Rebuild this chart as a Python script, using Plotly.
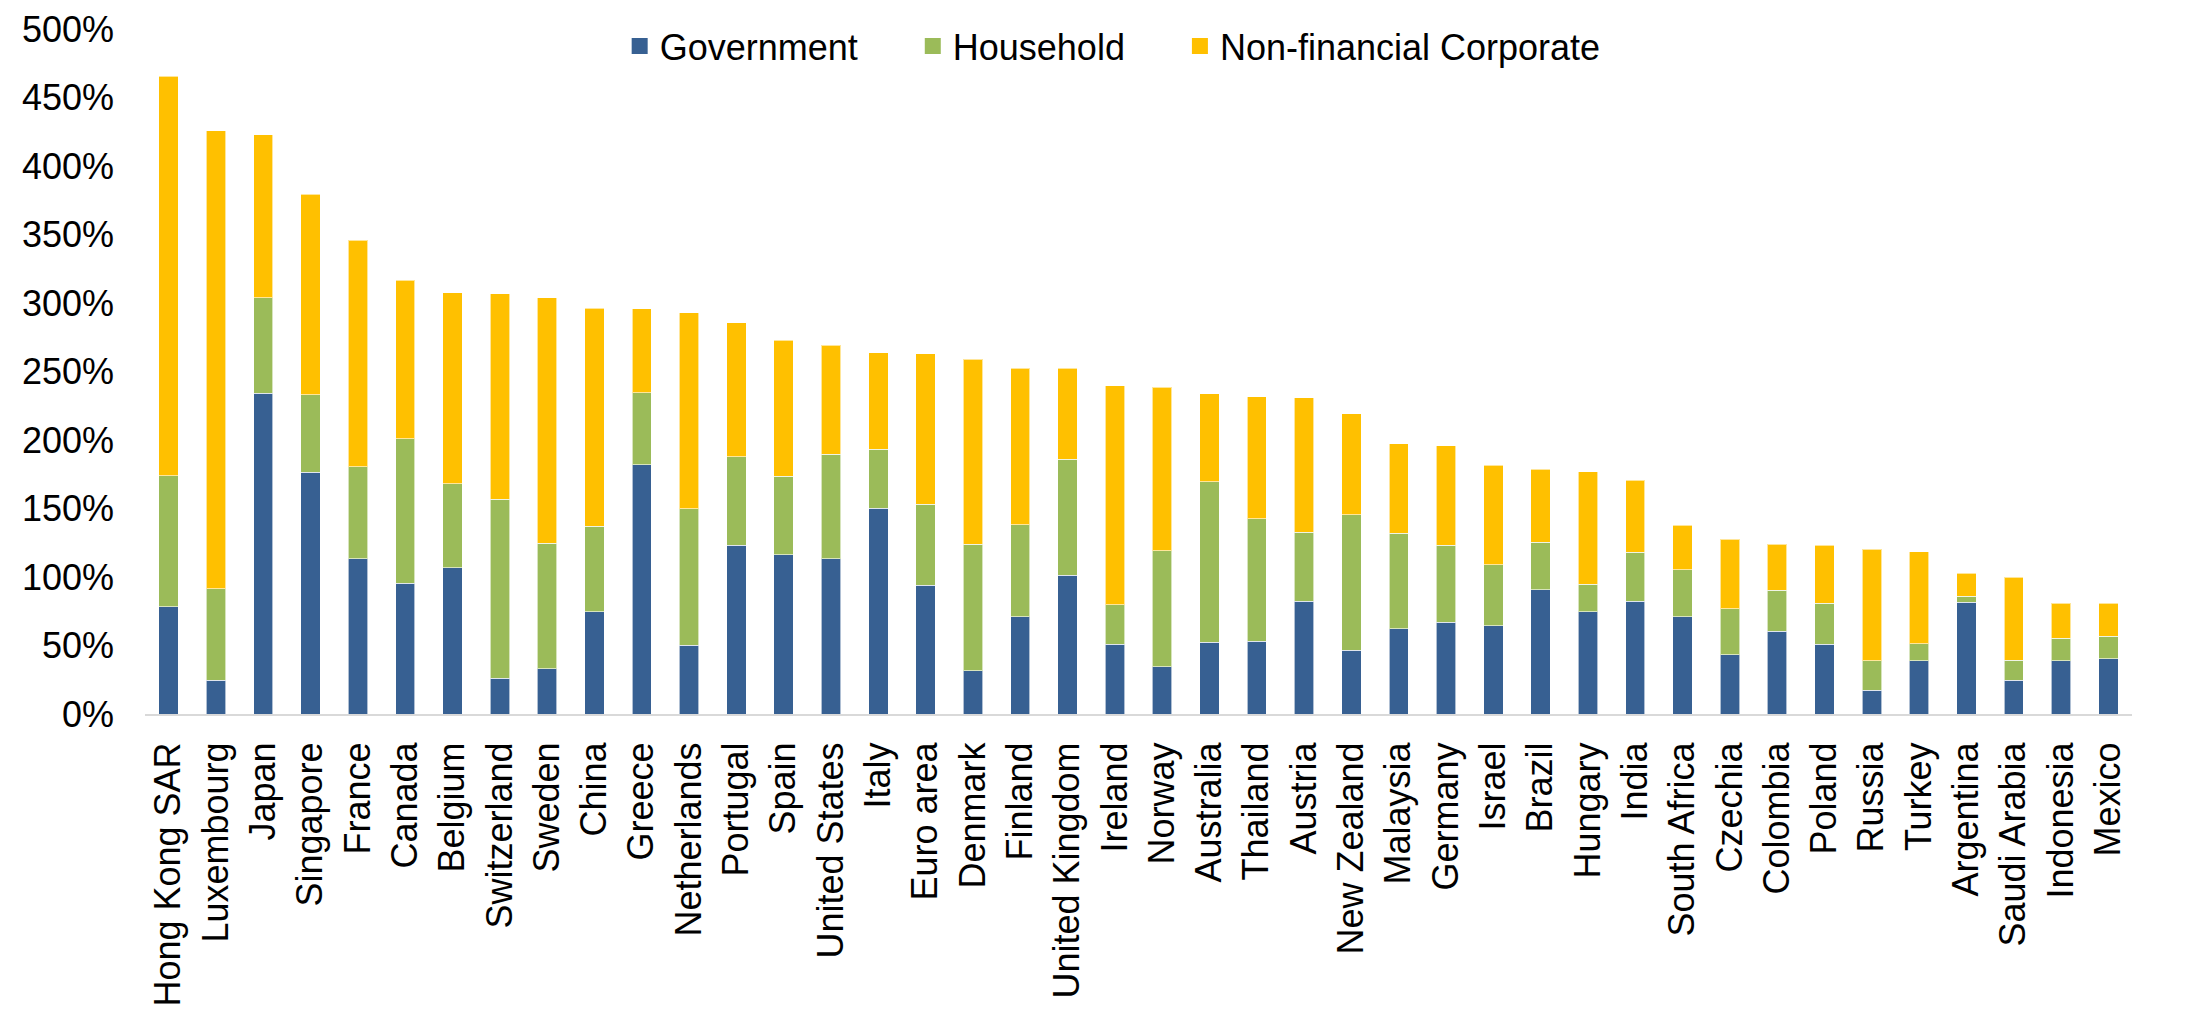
import plotly.graph_objects as go

# Debt by sector, % of GDP
countries = [
    "Hong Kong SAR", "Luxembourg", "Japan", "Singapore", "France", "Canada",
    "Belgium", "Switzerland", "Sweden", "China", "Greece", "Netherlands",
    "Portugal", "Spain", "United States", "Italy", "Euro area", "Denmark",
    "Finland", "United Kingdom", "Ireland", "Norway", "Australia", "Thailand",
    "Austria", "New Zealand", "Malaysia", "Germany", "Israel", "Brazil",
    "Hungary", "India", "South Africa", "Czechia", "Colombia", "Poland",
    "Russia", "Turkey", "Argentina", "Saudi Arabia", "Indonesia", "Mexico",
]

government = [
    78.3, 24.8, 234.1, 176.6, 113.4, 95.5, 106.9, 26.2, 33.1, 74.5, 182.1, 50.3,
    123.1, 116.2, 113.4, 150.3, 94.1, 31.4, 71.0, 101.4, 51.0, 34.5, 52.4, 53.1,
    82.4, 46.6, 62.1, 66.9, 64.5, 90.7, 74.5, 82.4, 71.0, 43.1, 60.3, 51.0,
    17.2, 39.0, 81.7, 24.5, 39.0, 40.3,
]

household = [
    95.5, 66.6, 69.7, 56.5, 66.9, 105.5, 61.0, 130.4, 91.4, 62.4, 52.4, 99.7,
    64.5, 57.2, 76.3, 43.1, 59.0, 92.4, 67.3, 84.5, 28.7, 84.8, 117.3, 89.3,
    50.4, 98.9, 70.0, 56.2, 44.5, 34.8, 20.3, 35.5, 34.2, 33.8, 30.0, 30.0,
    21.8, 12.4, 4.2, 14.8, 16.2, 16.3,
]

corporate = [
    291.7, 334.5, 119.0, 146.2, 165.6, 115.6, 139.7, 150.0, 179.3, 159.3, 61.4, 142.8,
    97.9, 99.4, 79.6, 70.4, 109.7, 135.2, 114.1, 66.5, 160.0, 119.3, 64.1, 89.3,
    98.2, 73.5, 65.1, 72.8, 72.4, 53.1, 82.1, 52.8, 32.7, 50.7, 33.5, 42.1,
    81.3, 67.2, 16.9, 60.7, 25.5, 24.1,
]

series_names = ["Government", "Household", "Non-financial Corporate"]
series_colors = ["#376092", "#9BBB59", "#FFC000"]
series_values = [government, household, corporate]

font_family = "Liberation Sans, Arial, sans-serif"
NBSP = "\u00a0"

fig = go.Figure()

for name, values, color in zip(series_names, series_values, series_colors):
    fig.add_trace(go.Bar(
        x=countries,
        y=values,
        name=name,
        marker=dict(color=color, line=dict(color="rgba(255,255,255,0.6)", width=1)),
        showlegend=False,
    ))

# Legend entries with larger square swatches; padded labels widen the gaps
for i, (name, color) in enumerate(zip(series_names, series_colors)):
    pad = NBSP * 5 if i < len(series_names) - 1 else ""
    fig.add_trace(go.Scatter(
        x=[None], y=[None],
        mode="markers",
        name=name + pad,
        marker=dict(symbol="square", size=16, color=color),
        showlegend=True,
    ))

fig.update_layout(
    barmode="stack",
    bargap=0.59,
    width=2188,
    height=1009,
    margin=dict(l=145, r=56, t=29, b=295, autoexpand=False),
    paper_bgcolor="white",
    plot_bgcolor="white",
    font=dict(family=font_family, size=36, color="black"),
    legend=dict(
        orientation="h",
        traceorder="normal",
        x=0.487, xanchor="center",
        y=0.975, yanchor="middle",
        font=dict(size=36, color="black"),
        itemwidth=30,
        tracegroupgap=0,
        bgcolor="rgba(0,0,0,0)",
    ),
    xaxis=dict(
        tickangle=-90,
        tickfont=dict(size=36, color="black"),
        showgrid=False,
        showline=True,
        linecolor="#D9D9D9",
        linewidth=2,
        ticks="",
        ticklabelstandoff=12,
        range=[-0.5, len(countries) - 0.5],
    ),
    yaxis=dict(
        range=[0, 500],
        dtick=50,
        ticksuffix="%",
        tickfont=dict(size=36, color="black"),
        showgrid=False,
        zeroline=False,
        showline=False,
        ticks="",
        ticklabelstandoff=30,
    ),
)

fig.write_html("out.html")
